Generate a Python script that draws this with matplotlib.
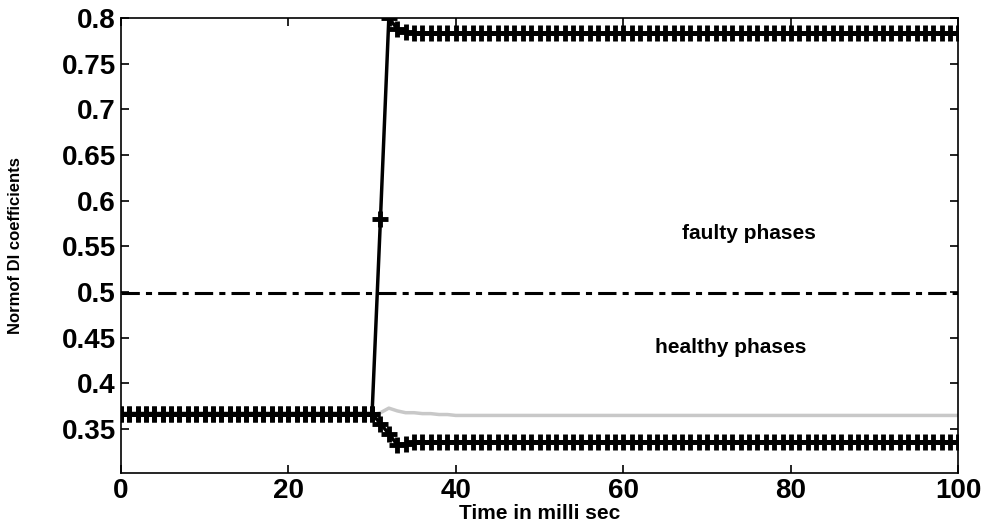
import numpy as np
import matplotlib.pyplot as plt

plt.rcParams['font.family'] = ['Liberation Sans', 'DejaVu Sans']
plt.rcParams['font.weight'] = 'bold'

# time axis (milli sec)
t = np.arange(0, 101)

# faulty phase: jumps up after the fault
faulty = np.full(t.shape, 0.783)
faulty[:31] = 0.367
faulty[31:35] = [0.58, 0.80, 0.788, 0.785]

# healthy phase that drops slightly
low = np.full(t.shape, 0.336)
low[:31] = 0.367
low[31:35] = [0.356, 0.345, 0.333, 0.334]

# healthy phase (grey)
grey = np.full(t.shape, 0.365)
grey[:31] = 0.366
grey[31:40] = [0.368, 0.373, 0.370, 0.368, 0.368, 0.367, 0.367, 0.366, 0.366]

threshold = 0.499

fig = plt.figure(figsize=(9.82, 5.25), dpi=100)
ax = fig.add_axes([0.123, 0.099, 0.853, 0.867])

ax.plot(t, grey, '-', color='#c8c8c8', lw=2.5)
ax.plot(t, low, '-+', color='k', lw=2.5, ms=11, mew=3.5)
ax.plot(t, faulty, '-+', color='k', lw=2.5, ms=11, mew=3.5)
ax.axhline(threshold, color='k', ls=(0, (6, 2, 2, 2)), lw=2.2)

ax.text(75, 0.564, 'faulty phases', ha='center', va='center', fontsize=15, fontweight='bold')
ax.text(72.8, 0.439, 'healthy phases', ha='center', va='center', fontsize=15, fontweight='bold')

ax.set_xlim(0, 100)
ax.set_ylim(0.302, 0.8)
ax.set_xticks(np.arange(0, 101, 20))
ax.set_yticks(np.round(np.arange(0.35, 0.801, 0.05), 2))
ax.set_yticklabels(['0.35', '0.4', '0.45', '0.5', '0.55', '0.6', '0.65', '0.7', '0.75', '0.8'])
ax.tick_params(direction='in', length=6, width=1.2, labelsize=20, top=True, right=True)
for s in ax.spines.values():
    s.set_linewidth(1.2)

ax.set_xlabel('Time in milli sec', fontsize=15, fontweight='bold', labelpad=0)
ax.set_ylabel('Normof DI coefficients', fontsize=12, fontweight='bold', labelpad=28)

fig.savefig('out.png', dpi=100)
